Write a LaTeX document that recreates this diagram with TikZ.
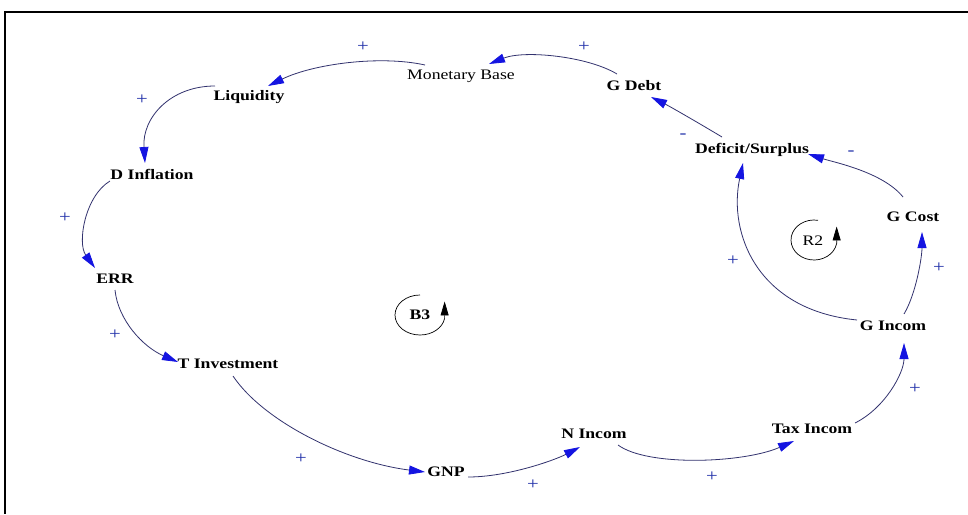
\documentclass[tikz,border=0pt]{standalone}
\usepackage{fontspec}
\setmainfont{Liberation Serif}[FakeStretch=1.22]
\usetikzlibrary{arrows.meta}
\definecolor{linkc}{RGB}{50,50,110}
\definecolor{tipc}{RGB}{20,20,225}
\definecolor{signc}{RGB}{35,50,170}
\begin{document}
\begin{tikzpicture}[x=1pt,y=-1pt,
  var/.style={font=\fontsize{14.5}{16}\selectfont\bfseries, inner sep=1pt},
  varn/.style={font=\fontsize{14.5}{16}\selectfont, inner sep=1pt},
  link/.style={draw=linkc, line width=0.8pt, -{Triangle[length=16pt,width=9pt,color=tipc]}},
  sign/.style={text=signc, font=\fontsize{17}{19}\selectfont, inner sep=0pt},
  loopc/.style={draw=black, line width=0.7pt, -{Triangle[length=14pt,width=8pt]}},
]
\useasboundingbox[fill=white] (0,0) rectangle (968,514);
\draw[line width=2.4pt] (968,12) -- (5,12) -- (5,514);

% variables
\node[varn] (mb)    at (461,76)  {Monetary Base};
\node[var]  (gdebt) at (634,86)  {G Debt};
\node[var]  (liq)   at (249,97)  {Liquidity};
\node[var]  (dinf)  at (152,174) {D Inflation};
\node[var]  (err)   at (115,279) {ERR};
\node[var]  (tinv)  at (228,364) {T Investment};
\node[var]  (gnp)   at (446,472) {GNP};
\node[var]  (ninc)  at (594,434) {N Incom};
\node[var]  (tax)   at (812,429) {Tax Incom};
\node[var]  (ginc)  at (893,326) {G Incom};
\node[var]  (gcost) at (913,217) {G Cost};
\node[var]  (def)   at (752,150) {Deficit/Surplus};

% links
\draw[link] ([shift={(-17,-12)}]gdebt.center) .. controls +(-30,-18) and +(35,-14) .. ([shift={(28,-12)}]mb.center);
\draw[link] ([shift={(-36,-11)}]mb.center) .. controls +(-45,-10) and +(45,-22) .. ([shift={(19,-11)}]liq.center);
\draw[link] ([shift={(-34,-11)}]liq.center) .. controls +(-45,0) and +(-3,-45) .. ([shift={(-7,-11)}]dinf.center);
\draw[link] ([shift={(-42,7)}]dinf.center) .. controls +(-25,15) and +(-18,-25) .. ([shift={(-20,-11)}]err.center);
\draw[link] ([shift={(0,11)}]err.center) .. controls +(3,30) and +(-35,-15) .. ([shift={(-50,-2)}]tinv.center);
\draw[link] ([shift={(5,12)}]tinv.center) .. controls +(30,45) and +(-80,-10) .. ([shift={(-21,0)}]gnp.center);
\draw[link] ([shift={(22,5)}]gnp.center) .. controls +(40,0) and +(-25,13) .. ([shift={(-14,13)}]ninc.center);
\draw[link] ([shift={(24,11)}]ninc.center) .. controls +(30,22) and +(-50,22) .. ([shift={(-18,12)}]tax.center);
\draw[link] ([shift={(43,-6)}]tax.center) .. controls +(30,-15) and +(0,30) .. ([shift={(11,17)}]ginc.center);
\draw[link] ([shift={(11,-12)}]ginc.center) .. controls +(12,-20) and +(0,25) .. ([shift={(9,15)}]gcost.center);
\draw[link] ([shift={(-10,-20)}]gcost.center) .. controls +(-20,-25) and +(25,8) .. ([shift={(56,4)}]def.center);
\draw[link] ([shift={(-36,-6)}]ginc.center) .. controls +(-100,-10) and +(-15,70) .. ([shift={(-9,13)}]def.center);
\draw[link] ([shift={(-30,-13)}]def.center) .. controls +(-20,-12) and +(20,10) .. ([shift={(17,11)}]gdebt.center);

% polarity signs
\node[sign] (s1)  at (584,47)  {+};
\node[sign] (s2)  at (363,47)  {+};
\node[sign] (s3)  at (142,100) {+};
\node[sign] (s4)  at (65,218)  {+};
\node[sign] (s5)  at (115,335) {+};
\node[sign] (s6)  at (301,459) {+};
\node[sign] (s7)  at (533,485) {+};
\node[sign] (s8)  at (712,477) {+};
\node[sign] (s9)  at (915,389) {+};
\node[sign] (s10) at (939,268) {+};
\node[sign] (s11) at (733,261) {+};
\node[sign] (s12) at (683,136) {-};
\node[sign] (s13) at (851,153) {-};

% loop markers
\node[varn] (r2) at (813,241) {R2};
\draw[loopc] (814,240) ++(-80:23 and 20) arc[start angle=-80, end angle=-350, x radius=23, y radius=20] -- ++(0,-17);
\node[var] (b3) at (420,315) {B3};
\draw[loopc] (420,315) ++(-90:25 and 20) arc[start angle=-90, end angle=-350, x radius=25, y radius=20] -- ++(0,-17);
\end{tikzpicture}
\end{document}
